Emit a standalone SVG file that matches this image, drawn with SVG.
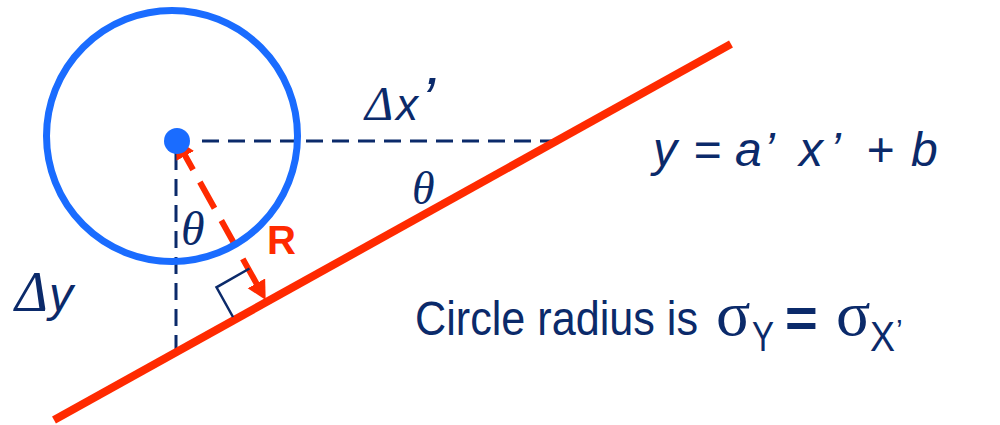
<svg xmlns="http://www.w3.org/2000/svg" width="1000" height="425" viewBox="0 0 1000 425">
  <style>
    .navy { fill: #0b2a6a; }
    .sans { font-family: "Liberation Sans", Arial, sans-serif; }
    .serif { font-family: "Liberation Serif", "Times New Roman", serif; }
    .it { font-style: italic; }
    .dash { stroke: #0b2a6a; stroke-width: 3; stroke-dasharray: 17 9; fill: none; }
  </style>
  <defs>
    <marker id="redHead" markerUnits="userSpaceOnUse" markerWidth="20" markerHeight="22" refX="9" refY="10" orient="auto-start-reverse" viewBox="0 0 20 22">
      <path d="M0,0 L19,10 L0,20 z" fill="#ff2a00"/>
    </marker>
  </defs>
  <rect width="1000" height="425" fill="#ffffff"/>

  <g id="connectors">
    <line class="dash" x1="202" y1="141" x2="557" y2="141"/>
    <line class="dash" x1="176" y1="153" x2="176" y2="350"/>
    <line id="fit-line" x1="54" y1="420" x2="731" y2="44" stroke="#ff2a00" stroke-width="8"/>
    <path id="R-arrow" d="M180.9,148 L260.8,291.2" stroke="#ff2a00" stroke-width="6" stroke-dasharray="30 14" stroke-dashoffset="5" fill="none" marker-start="url(#redHead)" marker-end="url(#redHead)"/>
    <polyline id="right-angle" points="233,317 216.5,287.3 249.5,268.5" fill="none" stroke="#0b2a6a" stroke-width="2.5"/>
  </g>

  <g id="circle">
    <circle cx="172" cy="136" r="125.5" fill="none" stroke="#1a6cff" stroke-width="7"/>
    <circle cx="177" cy="141" r="13" fill="#1a6cff"/>
  </g>

  <g id="labels">
    <text class="navy serif it" x="365" y="120" font-size="48">Δ<tspan class="sans" font-size="44" x="396">x</tspan><tspan class="sans" font-size="62" x="421">’</tspan></text>
    <text class="navy serif it" x="412" y="204" font-size="46">θ</text>
    <text class="navy serif it" x="181" y="245" font-size="48">θ</text>
    <text class="sans" x="267" y="254" font-size="40" font-weight="bold" fill="#ff2a00">R</text>
    <text class="navy serif it" x="15" y="311" font-size="56">Δ<tspan class="sans" font-size="48" x="49">y</tspan></text>
    <text class="navy sans it" y="166" font-size="48"><tspan x="653">y</tspan><tspan x="693">=</tspan><tspan x="735">a</tspan><tspan x="764">’</tspan><tspan x="799">x</tspan><tspan x="830">’</tspan><tspan x="866">+</tspan><tspan x="911">b</tspan></text>
  </g>

  <g id="caption">
    <text class="navy sans" x="415" y="335" font-size="48" textLength="283" lengthAdjust="spacingAndGlyphs">Circle radius is</text>
    <text class="navy"><tspan class="serif" x="716" y="335" font-size="64">σ</tspan><tspan class="sans" x="752" y="351" font-size="42" textLength="22" lengthAdjust="spacingAndGlyphs">Y</tspan><tspan class="sans" x="785" y="337" font-size="56" font-weight="bold">=</tspan><tspan class="serif" x="836" y="335" font-size="64">σ</tspan><tspan class="sans" x="870" y="351" font-size="42" textLength="25" lengthAdjust="spacingAndGlyphs">X</tspan><tspan class="sans" x="896" y="340" font-size="30">’</tspan></text>
  </g>
</svg>
